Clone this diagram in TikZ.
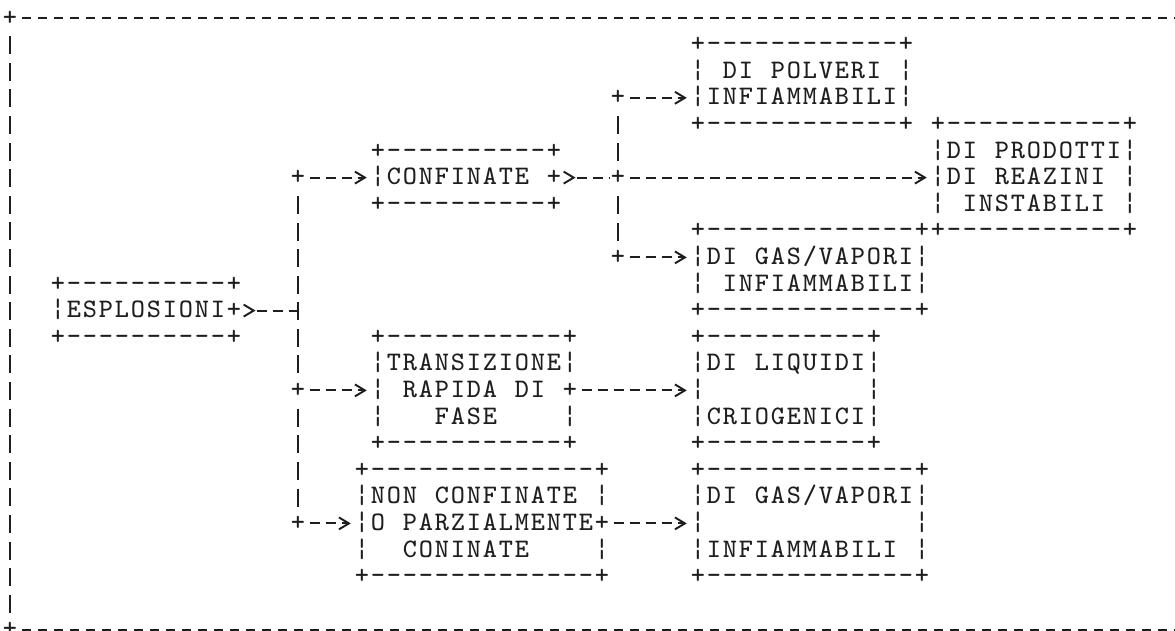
\documentclass[tikz,border=0pt]{standalone}
\usetikzlibrary{arrows.meta}

\definecolor{ink}{HTML}{1E1E1E}
\newlength\cellw \setlength\cellw{0.16cm}
\newlength\rowh \setlength\rowh{0.266cm}
\newcommand\rs{\rule[-0.235\rowh]{0pt}{\rowh}}
\ExplSyntaxOn
\NewDocumentCommand\cells{m}{\rs\tl_map_inline:nn{#1}{\makebox[\cellw][c]{##1}}}
\ExplSyntaxOff

\begin{document}
\begin{tikzpicture}[x=0.16cm, y=-0.266cm, shift={(0.625,0.677)},
  ascii/.style={font=\ttfamily\fontsize{7.6pt}{0.266cm}\selectfont, align=left, inner sep=0pt, text=ink},
  jn/.style={ascii},
  link/.style={draw=ink, line width=0.55pt, dash pattern=on 0.1cm off 0.06cm, dash phase=0.13cm},
  arr/.style={link, -{Straight Barb[length=1mm, width=1.2mm]}, shorten >=0.25mm},
  bck/.style={link, {Straight Barb[length=1mm, width=1.2mm, reversed]}-},
  trunk/.style={draw=ink, line width=0.55pt, dash pattern=on 0.18cm off 0.086cm, dash phase=0.223cm},
  frm/.style={draw=ink, line width=0.55pt, dash pattern=on 0.09cm off 0.07cm, dash phase=0.125cm}
]
\useasboundingbox (-0.625,-0.677) rectangle (72.8125,23.045);

% outer frame
\node[jn] (fr1) at (0,0) {\cells{+}};
\node[jn] (fr2) at (0,23) {\cells{+}};
\coordinate (endT) at (74,0);
\coordinate (endB) at (74,23);
\draw[frm] (fr1.east) -- (endT);
\draw[frm] (fr2.east) -- (endB);
\draw[trunk] (fr1.south) -- (fr2.north);

% boxes
\node[ascii] (esplo) at (8.5,11) {\cells{+----------+}\\\cells{¦ESPLOSIONI+}\\\cells{+----------+}};
\node[ascii] (confin) at (28.5,6) {\cells{+----------+}\\\cells{¦CONFINATE~+}\\\cells{+----------+}};
\node[ascii] (trans) at (29,14) {\cells{+-----------+}\\\cells{¦TRANSIZIONE¦}\\\cells{¦~RAPIDA~DI~+}\\\cells{¦~~~FASE~~~~¦}\\\cells{+-----------+}};
\node[ascii] (nonconf) at (29.5,19) {\cells{+--------------+}\\\cells{¦NON~CONFINATE~¦}\\\cells{¦O~PARZIALMENTE+}\\\cells{¦~~CONINATE~~~~¦}\\\cells{+--------------+}};
\node[ascii] (polv) at (49.5,2.5) {\cells{+------------+}\\\cells{¦~DI~POLVERI~¦}\\\cells{¦INFIAMMABILI¦}\\\cells{+------------+}};
\node[ascii] (prod) at (64,6) {\cells{+-----------+}\\\cells{¦DI~PRODOTTI¦}\\\cells{¦DI~REAZINI~¦}\\\cells{¦~INSTABILI~¦}\\\cells{+-----------+}};
\node[ascii] (gas1) at (50,9.5) {\cells{+-------------+}\\\cells{¦DI~GAS/VAPORI¦}\\\cells{¦~INFIAMMABILI¦}\\\cells{+-------------+}};
\node[ascii] (liq) at (48.5,14) {\cells{+----------+}\\\cells{¦DI~LIQUIDI¦}\\\cells{¦~~~~~~~~~~¦}\\\cells{¦CRIOGENICI¦}\\\cells{+----------+}};
\node[ascii] (gas2) at (50,19) {\cells{+-------------+}\\\cells{¦DI~GAS/VAPORI¦}\\\cells{¦~~~~~~~~~~~~~¦}\\\cells{¦INFIAMMABILI~¦}\\\cells{+-------------+}};

% junctions
\node[jn] (jconf) at (18,6) {\cells{+}};
\node[jn] (jtrans) at (18,14) {\cells{+}};
\node[jn] (jnon) at (18,19) {\cells{+}};
\node[jn] (jpolv) at (38,3) {\cells{+}};
\node[jn] (jprod) at (38,6) {\cells{+}};
\node[jn] (jgas) at (38,9) {\cells{+}};
\coordinate (tk) at (18,11);

% connectors
\draw[bck] (esplo.east) -- (tk);
\draw[trunk] (jconf.south) -- (jtrans.north);
\draw[trunk] (jtrans.south) -- (jnon.north);
\draw[arr] (jconf.east) -- (confin.west);
\draw[arr] (jtrans.east) -- (trans.west);
\draw[arr] (jnon.east) -- (nonconf.west);
\draw[bck] (confin.east) -- (jprod.west);
\draw[trunk] (jpolv.south) -- (jprod.north);
\draw[trunk] (jprod.south) -- (jgas.north);
\draw[arr] (jpolv.east) -- (jpolv.east -| polv.west);
\draw[arr] (jprod.east) -- (prod.west);
\draw[arr] (jgas.east) -- (jgas.east -| gas1.west);
\draw[arr] (trans.east) -- (liq.west);
\draw[arr] (nonconf.east) -- (gas2.west);
\end{tikzpicture}
\end{document}
